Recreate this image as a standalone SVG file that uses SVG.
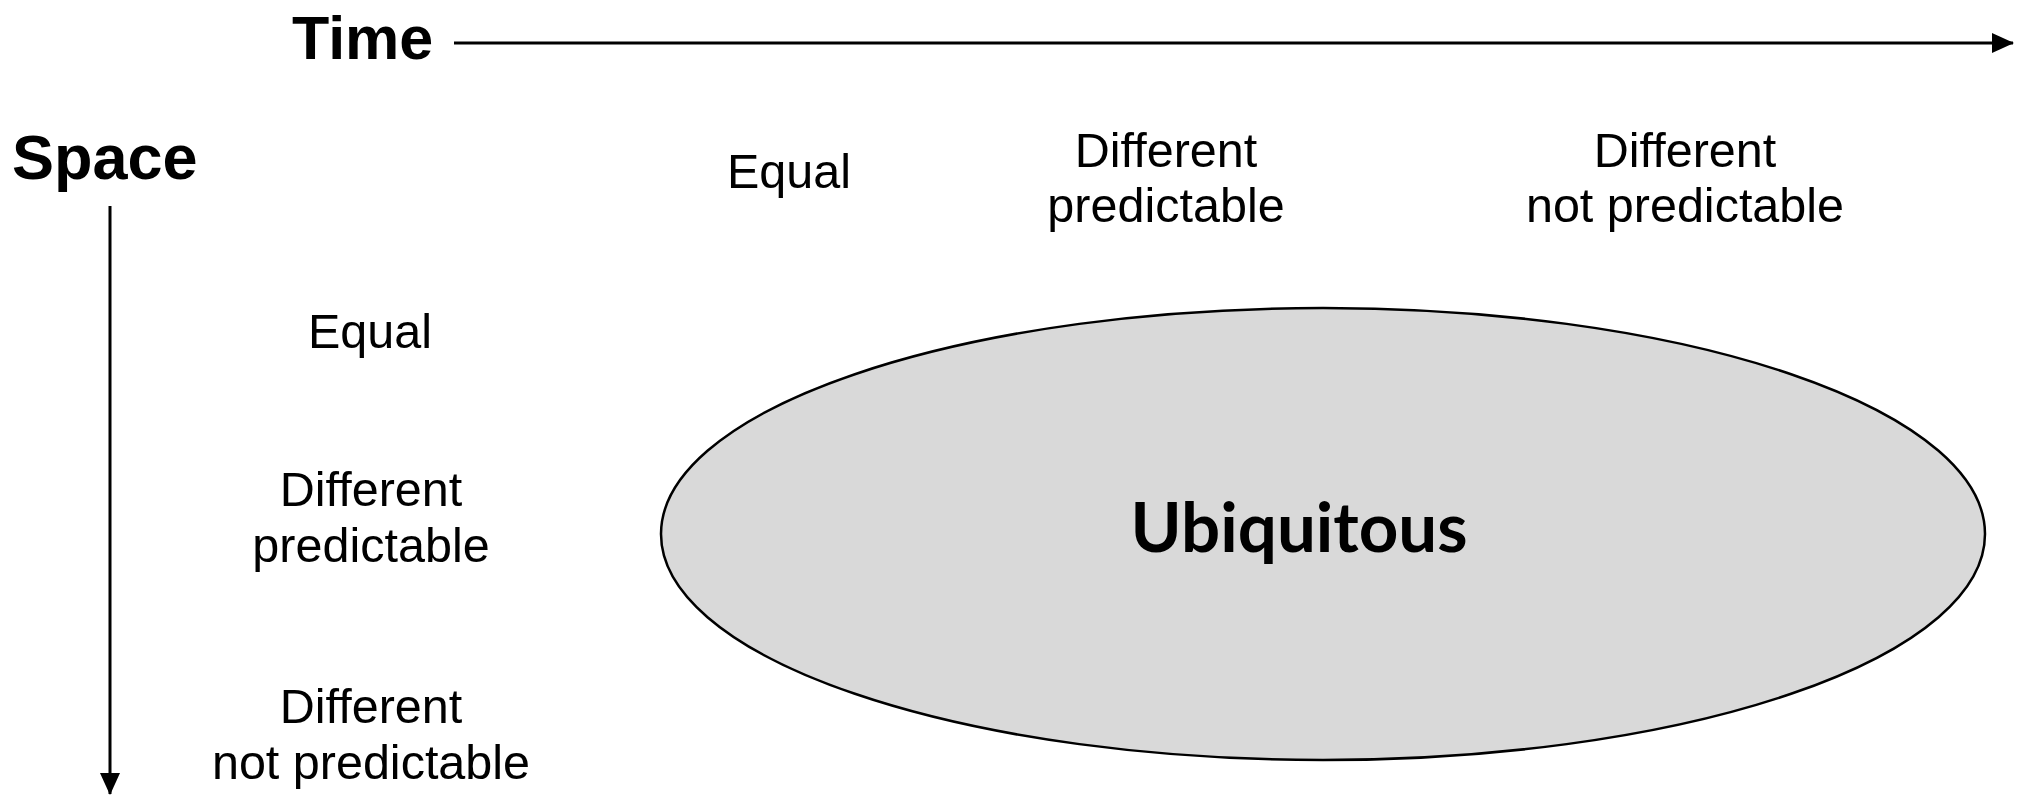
<svg xmlns="http://www.w3.org/2000/svg" width="2021" height="795" viewBox="0 0 2021 795">
  <style>
    .axis-title { font-family: "Liberation Sans", Arial, sans-serif; font-weight: bold; font-size: 61px; fill: #000; }
    .label { font-family: "Liberation Sans", Arial, sans-serif; font-size: 48.5px; fill: #000; text-anchor: middle; }
    .axis { stroke: #000; stroke-width: 3; fill: none; }
    .blob { fill: #d9d9d9; stroke: #000; stroke-width: 2.5; }
    .blob-text { font-family: Lato, "Open Sans", sans-serif; font-weight: bold; font-size: 69px; fill: #000; text-anchor: middle; }
  </style>
  <defs>
    <marker id="head" viewBox="0 0 22 20" refX="21" refY="10" markerWidth="22" markerHeight="20" markerUnits="userSpaceOnUse" orient="auto">
      <path d="M0,0 L22,10 L0,20 z" fill="#000"/>
    </marker>
  </defs>
  <rect width="2021" height="795" fill="#fff"/>

  <!-- axes -->
  <g id="connectors">
    <line class="axis" x1="454" y1="43" x2="2013" y2="43" marker-end="url(#head)"/>
    <line class="axis" x1="110" y1="206" x2="110" y2="794" marker-end="url(#head)"/>
  </g>

  <g id="time-axis">
    <text class="axis-title" x="292" y="59">Time</text>
  </g>
  <g id="space-axis">
    <text class="axis-title" x="12" y="179" style="font-size:63px">Space</text>
  </g>

  <!-- time categories -->
  <g id="time-equal">
    <text class="label" x="789" y="188">Equal</text>
  </g>
  <g id="time-predictable">
    <text class="label" x="1166" y="167">Different</text>
    <text class="label" x="1166" y="222">predictable</text>
  </g>
  <g id="time-unpredictable">
    <text class="label" x="1685" y="167">Different</text>
    <text class="label" x="1685" y="222">not predictable</text>
  </g>

  <!-- space categories -->
  <g id="space-equal">
    <text class="label" x="370" y="348">Equal</text>
  </g>
  <g id="space-predictable">
    <text class="label" x="371" y="506">Different</text>
    <text class="label" x="371" y="562">predictable</text>
  </g>
  <g id="space-unpredictable">
    <text class="label" x="371" y="723">Different</text>
    <text class="label" x="371" y="779">not predictable</text>
  </g>

  <g id="ubiquitous">
    <ellipse class="blob" cx="1323" cy="534" rx="662" ry="226"/>
    <text class="blob-text" x="1299" y="552">Ubiquitous</text>
  </g>
</svg>
